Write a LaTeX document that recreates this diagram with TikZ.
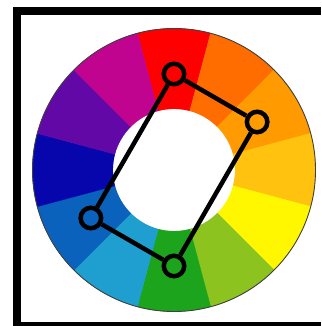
\documentclass[tikz,border=0pt]{standalone}
\definecolor{cA}{HTML}{FF0000}
\definecolor{cB}{HTML}{FF6C00}
\definecolor{cC}{HTML}{FF9A00}
\definecolor{cD}{HTML}{FFC20E}
\definecolor{cE}{HTML}{FFF700}
\definecolor{cF}{HTML}{8DC31F}
\definecolor{cG}{HTML}{1CA41C}
\definecolor{cH}{HTML}{1E9FD0}
\definecolor{cI}{HTML}{0A62BC}
\definecolor{cJ}{HTML}{0606AC}
\definecolor{cK}{HTML}{6208A6}
\definecolor{cL}{HTML}{C0048F}
\tikzset{
  framebar/.style={fill=black},
  vtx/.style={circle, draw=black, line width=4.5pt, minimum size=20.5pt, inner sep=0pt},
  edgeline/.style={draw=black, line width=4.5pt, line join=round}
}
\begin{document}
\begin{tikzpicture}[x=1pt,y=1pt]
\useasboundingbox (0,0) rectangle (321,326);
\fill[white] (0,0) rectangle (321,326);
% frame
\fill[framebar] (13,0) rectangle (21,319);
\fill[framebar] (13,311) rectangle (321,319);
\fill[framebar] (13,0) rectangle (321,4);
\begin{scope}[shift={(174,156)}]
  \foreach \a/\c in {90/cA,60/cB,30/cC,0/cD,-30/cE,-60/cF,-90/cG,-120/cH,-150/cI,180/cJ,150/cK,120/cL}{
    \pgfmathsetmacro{\sa}{\a-15}
    \pgfmathsetmacro{\ea}{\a+15}
    \filldraw[fill=\c, draw=\c, line width=0.4pt] (\sa:61) arc[start angle=\sa, end angle=\ea, radius=61]
      -- (\ea:141.5) arc[start angle=\ea, end angle=\sa, radius=141.5] -- cycle;
  }
  \draw[black!75, line width=0.9pt] (0,0) circle (141.5);
  \fill[white] (0,0) circle (60.8);
  \node[vtx] (t) at (90:96) {};
  \node[vtx] (r) at (30:96) {};
  \node[vtx] (b) at (-90:96) {};
  \node[vtx] (l) at (210:96) {};
  \draw[edgeline] (t) -- (r);
  \draw[edgeline] (r) -- (b);
  \draw[edgeline] (b) -- (l);
  \draw[edgeline] (l) -- (t);
\end{scope}
\end{tikzpicture}
\end{document}
